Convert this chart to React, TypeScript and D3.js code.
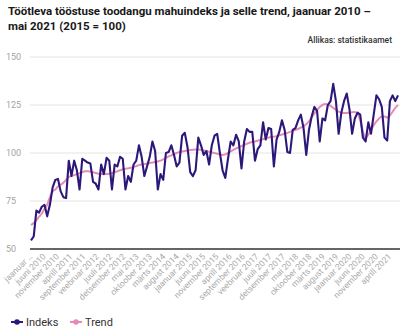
import React from "react";
import * as d3 from "d3";

const TITLE_LINES = [
  "Töötleva tööstuse toodangu mahuindeks ja selle trend, jaanuar 2010 –",
  "mai 2021 (2015 = 100)",
];
const SOURCE = "Allikas: statistikaamet";

const Y_TICKS = [50, 75, 100, 125, 150];

// monthly index values, Jan 2010 .. May 2021
const indeks = [
  54.5, 56.5, 70, 69, 72, 73, 67, 73, 82, 86, 86.5, 80,
  77, 76.5, 96, 88, 96, 91, 81, 97, 96, 95, 94.5, 85,
  84, 81, 94, 89, 97.5, 96, 81, 94, 93, 98, 97, 81,
  88, 85, 94, 96, 104, 98, 88, 93, 98, 106, 101, 81,
  89, 86, 100, 100.5, 104, 99, 93, 95, 109, 110.5, 103, 90,
  88, 91, 108, 104, 99, 101, 94, 104, 109, 110, 100, 91,
  87, 97, 106, 104, 109.5, 106, 92, 106, 112.5, 111, 111, 96,
  102, 104, 116, 107, 113, 112.5, 93, 107, 111, 117, 112, 100.5,
  100, 112, 113, 117, 120, 113, 99, 112, 119, 124, 122, 106,
  118, 117, 125, 127, 136, 127, 110, 121, 127, 131, 123, 110,
  118, 121, 120, 108, 106, 116, 110, 120, 130, 128, 124, 108,
  106.5, 127, 130, 127, 130,
];

const trend = [
  62.5, 63.5, 65, 66.8, 68.5, 71, 73, 77, 80, 81, 82.5, 83.5,
  84.5, 86, 87.5, 88, 88.5, 89, 89.5, 90, 90.5, 90.5, 90.3, 90,
  89.6, 89.2, 89, 89, 89, 89.2, 89.5, 90, 90.5, 91, 91.5, 91.8,
  92, 92.3, 92.7, 93.2, 93.7, 94, 94.2, 94.5, 94.8, 95, 95.3, 95.6,
  96, 96.7, 97.5, 98.2, 98.8, 99.4, 100, 100.5, 100.8, 101, 101.3, 101.5,
  101.7, 101.8, 101.8, 101.6, 101.3, 101, 100.7, 100.3, 100, 99.6, 99.2, 99,
  99.3, 100, 100.8, 101.6, 102.4, 103, 103.6, 104.2, 104.8, 105.3, 105.7, 106,
  106.4, 106.8, 107.2, 107.6, 108, 108.3, 108.5, 108.8, 109.2, 109.6, 110, 110.5,
  111, 111.5, 112, 112.5, 113.2, 114, 115, 116.5, 118.5, 120.5, 122.5, 124,
  125, 125.5, 125.2, 124.5, 123.5, 122.5, 121.5, 121, 120.8, 120.8, 121, 121.2,
  121.3, 120.5, 117, 111, 108, 109.5, 112, 114.5, 116.5, 118, 119, 119,
  118.5, 119.5, 121.5, 123.5, 125,
];

// x-axis labels every 5 months
const X_LABEL_MONTHS = [0, 5, 10, 15, 20, 25, 30, 35, 40, 45, 50, 55, 60, 65, 70, 75, 80, 85, 90, 95, 100, 105, 110, 115, 120, 125, 130, 135];
const X_LABELS = [
  "jaanuar …", "juuni 2010", "november 2010", "aprill 2011", "september 2011",
  "veebruar 2012", "juuli 2012", "detsember 2012", "mai 2013", "oktoober 2013",
  "märts 2014", "august 2014", "jaanuar 2015", "juuni 2015", "november 2015",
  "aprill 2016", "september 2016", "veebruar 2017", "juuli 2017", "detsember 2017",
  "mai 2018", "oktoober 2018", "märts 2019", "august 2019", "jaanuar 2020",
  "juuni 2020", "november 2020", "aprill 2021",
];

const SERIES = [
  { name: "Indeks", color: "#2c1879" },
  { name: "Trend", color: "#e68bb8" },
];

const W = 400;
const H = 333;
const FONT = "Roboto, 'Noto Sans', sans-serif";

export default function App() {
  const x = d3.scaleLinear().domain([0, indeks.length - 1]).range([31, 398]);
  const y = d3.scaleLinear().domain([50, 150]).range([249, 57]);
  // label positions: slightly tighter spacing than the data
  const xl = d3.scaleLinear().domain([0, 135]).range([33, 392]);

  const lineIdx = d3
    .line<number>()
    .x((_, i) => x(i))
    .y((d) => y(d));
  const lineTrend = d3
    .line<number>()
    .x((_, i) => x(i))
    .y((d) => y(d))
    .curve(d3.curveMonotoneX);

  return (
    <svg
      width={W}
      height={H}
      style={{ position: "absolute", left: 0, top: 0, background: "#fff" }}
      fontFamily={FONT}
    >
      {TITLE_LINES.map((t, i) => (
        <text key={i} x={8} y={15 + i * 15} fontSize={11.5} fontWeight={700} fill="#181818">
          {t}
        </text>
      ))}
      <text x={392} y={43} fontSize={8.5} fontWeight={500} fill="#333" textAnchor="end">
        {SOURCE}
      </text>

      {Y_TICKS.map((t) => (
        <g key={t}>
          {t !== 50 && (
            <line x1={30} x2={400} y1={y(t)} y2={y(t)} stroke="#e4e4e4" strokeWidth={1} />
          )}
          <text x={6} y={y(t)} dy="0.35em" fontSize={9} fill="#a3a3a3">
            {t}
          </text>
        </g>
      ))}

      <path d={lineTrend(trend) || ""} fill="none" stroke={SERIES[1].color} strokeWidth={2} strokeLinejoin="round" />
      <path d={lineIdx(indeks) || ""} fill="none" stroke={SERIES[0].color} strokeWidth={2.1} strokeLinejoin="round" />

      <line x1={30} x2={400} y1={y(50)} y2={y(50)} stroke="#333" strokeWidth={1.3} />

      {X_LABEL_MONTHS.map((m, i) => (
        <text
          key={m}
          transform={`translate(${xl(m)},${257}) rotate(-45)`}
          textAnchor="end"
          fontSize={8.5}
          fill="#aaaaaa"
        >
          {X_LABELS[i]}
        </text>
      ))}

      {SERIES.map((s, i) => {
        const lx = 11 + i * 59;
        return (
          <g key={s.name}>
            <line x1={lx} x2={lx + 12} y1={322} y2={322} stroke={s.color} strokeWidth={2} />
            <circle cx={lx + 6} cy={322} r={2.8} fill={s.color} />
            <text x={lx + 15} y={322} dy="0.35em" fontSize={11} fill="#333">
              {s.name}
            </text>
          </g>
        );
      })}
    </svg>
  );
}
